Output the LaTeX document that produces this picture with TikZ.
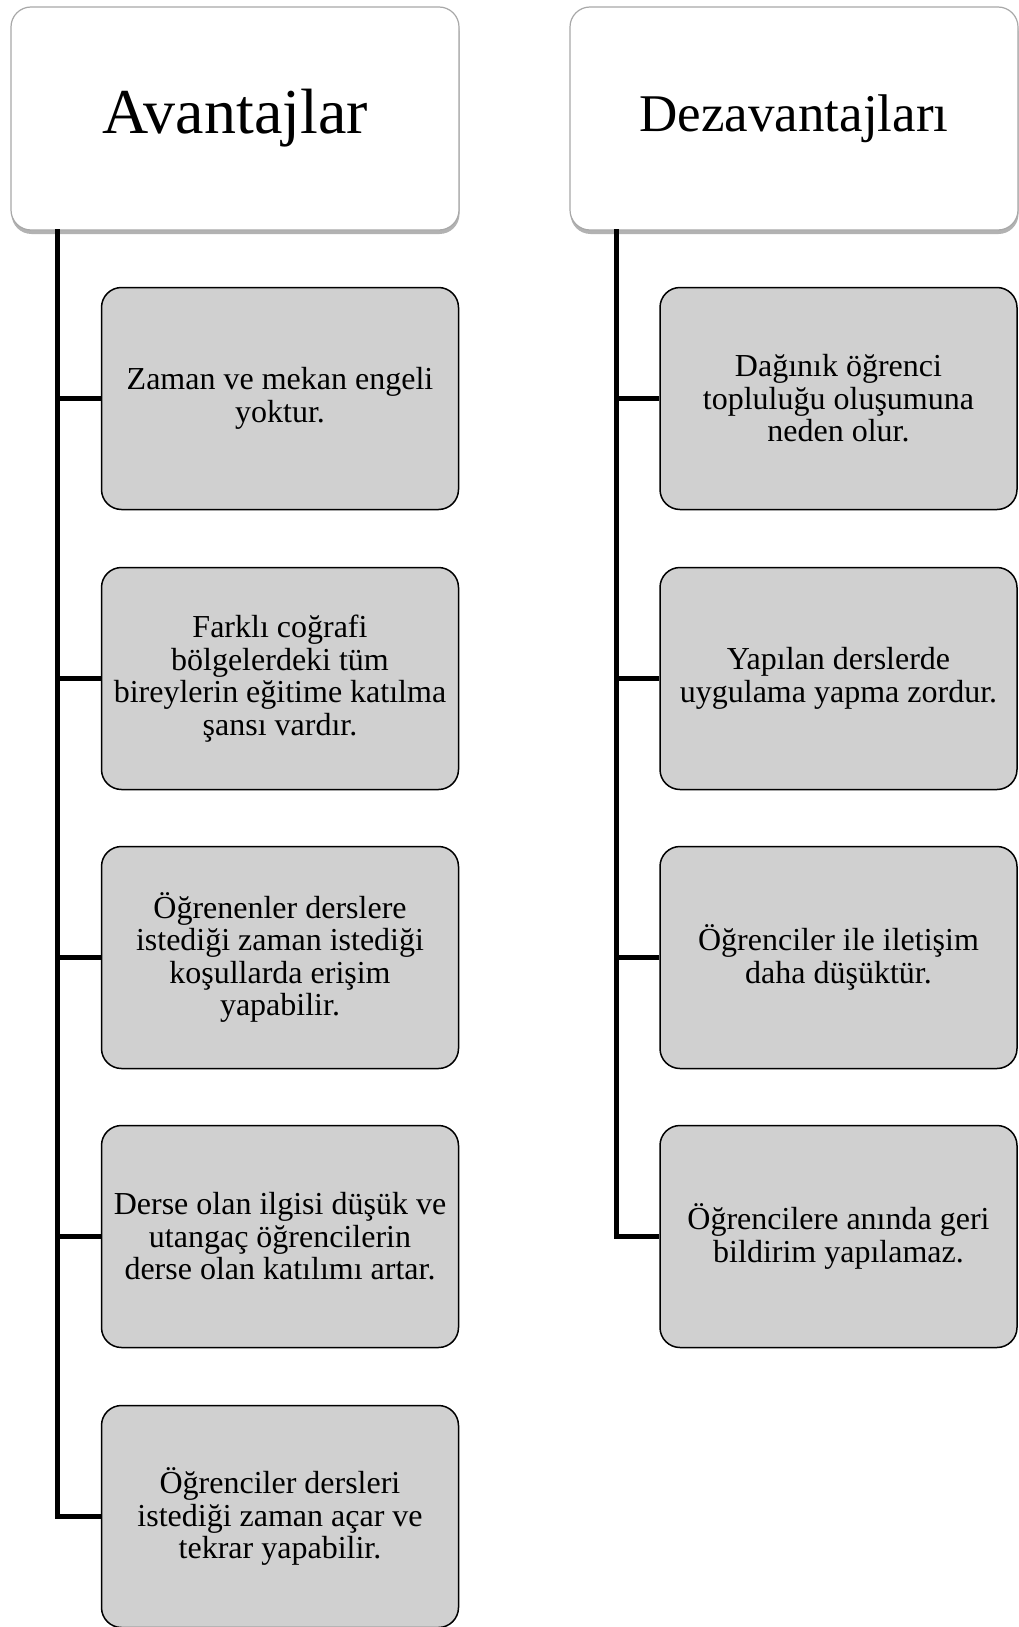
\documentclass[tikz,border=0pt]{standalone}
\usepackage{fontspec}
\setmainfont{Liberation Serif}
\usetikzlibrary{shadows}
\definecolor{boxg}{HTML}{D0D0D0}
\definecolor{rim}{HTML}{A8A8A8}

\begin{document}
\begin{tikzpicture}[x=1pt,y=-1pt,
  hdr/.style={draw=rim,line width=1.2pt,fill=white,rounded corners=20pt,minimum width=448pt,minimum height=223pt,inner sep=0pt,
    drop shadow={shadow xshift=0.5pt,shadow yshift=-4pt,opacity=0.3,fill=black}},
  item/.style={draw=black,line width=1.5pt,fill=boxg,rounded corners=20pt,minimum width=357pt,minimum height=222pt,inner sep=4pt,
    align=center,font=\fontsize{32}{32.5}\selectfont},
  trunk/.style={line width=5pt,draw=black}]
\useasboundingbox (0,0) rectangle (1018,1627);

% ---------- headers ----------
\node[hdr,font=\fontsize{64}{70}\selectfont] (hA) at (235,118.5) {Avantajlar};
\node[hdr,font=\fontsize{53}{60}\selectfont] (hD) at (794,118.5) {Dezavantajları};
\coordinate (tA) at (57,229);
\coordinate (tD) at (616,229);

% ---------- advantages ----------
\node[item] (a1) at (280,398.5) {Zaman ve mekan engeli\\yoktur.};
\node[item] (a2) at (280,678.5) {Farklı coğrafi\\bölgelerdeki tüm\\bireylerin eğitime katılma\\şansı vardır.};
\node[item] (a3) at (280,957.5) {Öğrenenler derslere\\istediği zaman istediği\\koşullarda erişim\\yapabilir.};
\node[item] (a4) at (280,1236.5) {Derse olan ilgisi düşük ve\\utangaç öğrencilerin\\derse olan katılımı artar.};
\node[item] (a5) at (280,1516.5) {Öğrenciler dersleri\\istediği zaman açar ve\\tekrar yapabilir.};

% ---------- disadvantages ----------
\node[item] (d1) at (838.5,398.5) {Dağınık öğrenci\\topluluğu oluşumuna\\neden olur.};
\node[item] (d2) at (838.5,678.5) {Yapılan derslerde\\uygulama yapma zordur.};
\node[item] (d3) at (838.5,957.5) {Öğrenciler ile iletişim\\daha düşüktür.};
\node[item] (d4) at (838.5,1236.5) {Öğrencilere anında geri\\bildirim yapılamaz.};

% ---------- connectors ----------
\draw[trunk] (tA) |- (a5.west);
\foreach \k in {1,...,4}
  \draw[trunk] (tA |- a\k.west) -- (a\k.west);
\draw[trunk] (tD) |- (d4.west);
\foreach \k in {1,...,3}
  \draw[trunk] (tD |- d\k.west) -- (d\k.west);
\end{tikzpicture}
\end{document}
